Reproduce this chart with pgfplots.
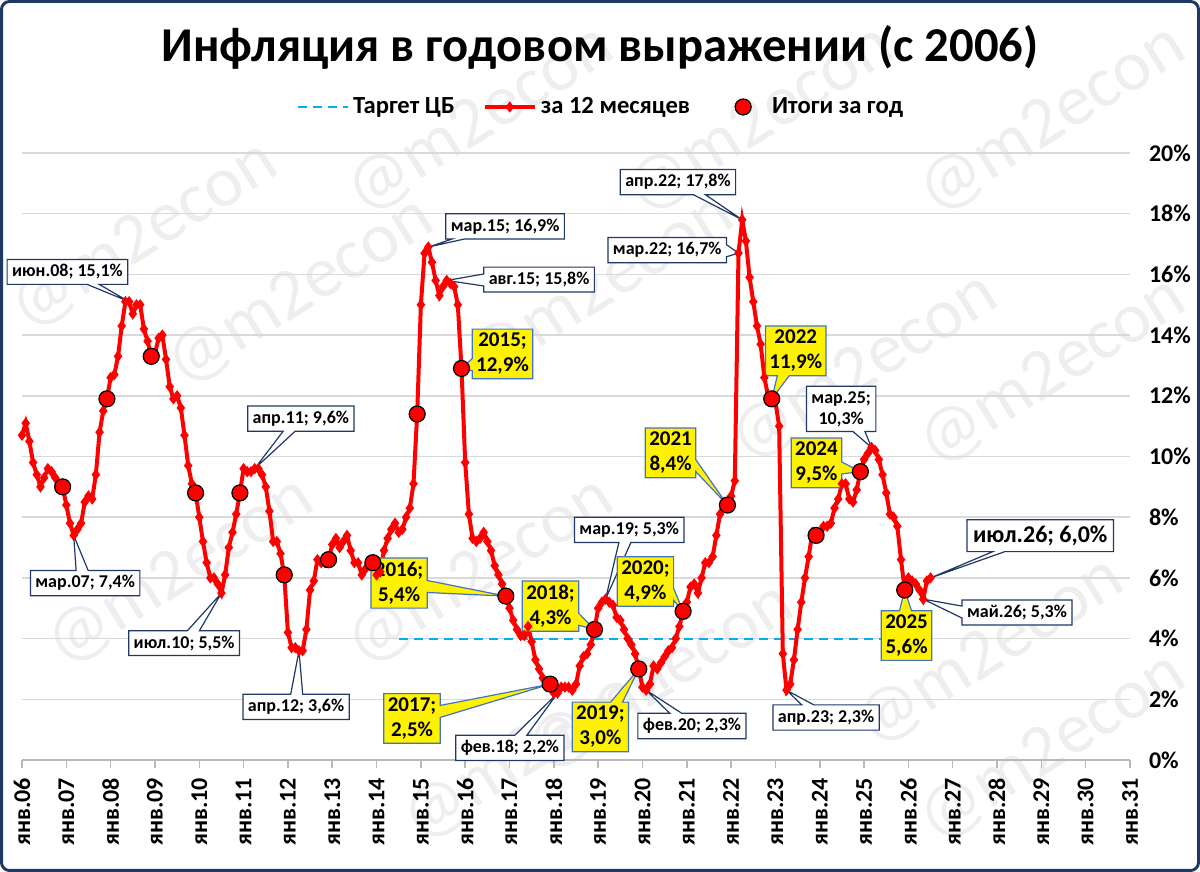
\documentclass[border=0pt]{standalone}
\usepackage{fontspec}
\setmainfont{Carlito}
\usepackage{pgfplots}
\usepackage{pgfplotstable}
\pgfplotsset{compat=1.18}
\usetikzlibrary{shapes.callouts}
\definecolor{navy}{HTML}{1F3864}
\definecolor{tgt}{HTML}{00B0F0}
\definecolor{ylwb}{HTML}{4472C4}
\definecolor{gridc}{HTML}{D9D9D9}
\definecolor{wm}{HTML}{EEEEEE}
\definecolor{redl}{HTML}{FF0000}
\tikzset{
  wc/.style={rectangle callout, draw=navy, fill=white, line width=0.6pt,
    font=\bfseries\fontsize{9}{10.5}\selectfont, inner xsep=2.5pt, inner ysep=2.5pt, callout pointer width=6pt, align=center},
  yc/.style={rectangle callout, draw=ylwb, fill=yellow, line width=0.6pt,
    font=\bfseries\fontsize{10.5}{12.5}\selectfont, inner xsep=2pt, inner ysep=2pt, callout pointer width=6pt, align=center},
}
\pgfplotsset{
  myleg/.style={legend image code/.code={\draw[mark repeat=2,mark phase=2,##1] plot coordinates {(0pt,0pt) (12.5pt,0pt) (25pt,0pt)};}},
  dotleg/.style={legend image code/.code={\path[draw=none,fill=none] (0pt,-1pt) (25pt,1pt);\draw[mark repeat=2,mark phase=2,##1] plot coordinates {(0pt,0pt) (12.5pt,0pt) (25pt,0pt)};}},
}

% monthly CPI y/y, Jan 2006 ... Jul 2026 (index 0..246)
\pgfplotstableread[row sep=\\]{v\\
10.7\\11.1\\10.5\\9.8\\9.4\\9.0\\9.3\\9.6\\9.5\\9.3\\9.1\\9.0\\
8.4\\7.8\\7.4\\7.6\\7.8\\8.5\\8.7\\8.6\\9.4\\10.8\\11.5\\11.9\\
12.6\\12.7\\13.3\\14.3\\15.1\\15.1\\14.7\\15.0\\15.0\\14.2\\13.8\\13.3\\
13.4\\13.9\\14.0\\13.2\\12.3\\11.9\\12.0\\11.6\\10.7\\9.7\\9.1\\8.8\\
8.0\\7.2\\6.5\\6.0\\6.0\\5.8\\5.5\\6.1\\7.0\\7.5\\8.1\\8.8\\
9.6\\9.5\\9.5\\9.6\\9.6\\9.4\\9.0\\8.2\\7.2\\7.2\\6.8\\6.1\\
4.2\\3.7\\3.7\\3.6\\3.6\\4.3\\5.6\\5.9\\6.6\\6.5\\6.5\\6.6\\
7.1\\7.3\\7.0\\7.2\\7.4\\6.9\\6.5\\6.5\\6.1\\6.3\\6.5\\6.5\\
6.1\\6.2\\6.9\\7.3\\7.6\\7.8\\7.5\\7.6\\8.0\\8.3\\9.1\\11.4\\
15.0\\16.7\\16.9\\16.4\\15.8\\15.3\\15.6\\15.8\\15.7\\15.6\\15.0\\12.9\\
9.8\\8.1\\7.3\\7.2\\7.3\\7.5\\7.2\\6.9\\6.4\\6.1\\5.8\\5.4\\
5.0\\4.6\\4.3\\4.1\\4.1\\4.4\\3.9\\3.3\\3.0\\2.7\\2.5\\2.5\\
2.2\\2.2\\2.4\\2.4\\2.4\\2.3\\2.5\\3.1\\3.4\\3.5\\3.8\\4.3\\
5.0\\5.2\\5.3\\5.2\\5.1\\4.7\\4.6\\4.3\\4.0\\3.8\\3.5\\3.0\\
2.4\\2.3\\2.5\\3.1\\3.0\\3.2\\3.4\\3.6\\3.7\\4.0\\4.4\\4.9\\
5.2\\5.7\\5.8\\5.5\\6.0\\6.5\\6.5\\6.7\\7.4\\8.1\\8.4\\8.4\\
8.7\\9.2\\16.7\\17.8\\17.1\\15.9\\15.1\\14.3\\13.7\\12.6\\12.0\\11.9\\
11.8\\11.0\\3.5\\2.3\\2.5\\3.3\\4.3\\5.2\\6.0\\6.7\\7.5\\7.4\\
7.4\\7.7\\7.7\\7.8\\8.3\\8.6\\9.1\\9.1\\8.6\\8.5\\8.9\\9.5\\
9.9\\10.1\\10.3\\10.2\\9.9\\9.4\\8.8\\8.1\\8.0\\7.7\\6.6\\5.6\\
6.0\\5.9\\5.8\\5.6\\5.3\\5.9\\6.0\\
}\monthly

\pgfplotstableread[row sep=\\]{m v\\
11 9.0\\23 11.9\\35 13.3\\47 8.8\\59 8.8\\71 6.1\\83 6.6\\95 6.5\\107 11.4\\119 12.9\\
131 5.4\\143 2.5\\155 4.3\\167 3.0\\179 4.9\\191 8.4\\203 11.9\\215 7.4\\227 9.5\\239 5.6\\
}\annual

\pgfplotstableread[row sep=\\]{m v\\
102 4\\239 4\\
}\target

\begin{document}
\begin{tikzpicture}
\useasboundingbox (0pt,0pt) rectangle (600pt,436pt);
% watermarks
\foreach \wx/\wy in {72/318, 150/290, 240/376, 300/292, 432/252, 526/376, 526/250,
  90/150, 240/150, 330/97, 495/110, 268/62, 526/62, 380/376}{
  \node[rotate=32, text=wm, font=\fontsize{36}{36}\selectfont] at (\wx pt,\wy pt) {@m2econ};
}
\node[font=\bfseries\fontsize{24.3}{28}\selectfont] at (300pt,412.5pt) {Инфляция в годовом выражении (с 2006)};
\begin{axis}[
  at={(11pt,56pt)}, anchor=south west, scale only axis,
  width=554pt, height=303.5pt,
  xmin=0, xmax=300, ymin=0, ymax=20,
  axis x line*=bottom, axis y line*=right,
  yticklabel pos=right,
  y axis line style={draw=none},
  x axis line style={draw=gray!55, line width=0.75pt, -},
  xtick={0,12,...,300},
  xticklabels={янв.06,янв.07,янв.08,янв.09,янв.10,янв.11,янв.12,янв.13,янв.14,янв.15,янв.16,янв.17,янв.18,янв.19,янв.20,янв.21,янв.22,янв.23,янв.24,янв.25,янв.26,янв.27,янв.28,янв.29,янв.30,янв.31},
  xticklabel style={yshift=-1.5pt, rotate=90, anchor=east, font=\bfseries\fontsize{12}{12}\selectfont},
  ytick={0,2,...,20},
  yticklabels={0\%,2\%,4\%,6\%,8\%,10\%,12\%,14\%,16\%,18\%,20\%},
  yticklabel style={font=\bfseries\fontsize{12}{12}\selectfont, anchor=west, xshift=2pt},
  ymajorgrids, grid style={gridc, line width=0.75pt},
  major tick length=4pt, tick align=outside,
  xtick style={draw=gray!55, line width=0.75pt},
  ytick style={draw=none},
  clip=false,
  legend columns=3,
  legend style={at={(0.5235,1.0758)}, anchor=center, draw=none, fill=none,
    font=\bfseries\fontsize{12.3}{14}\selectfont,
    nodes={inner xsep=2pt},
    /tikz/every even column/.append style={column sep=12pt}},
  myleg,
]
\addplot[tgt, line width=1pt, dash pattern=on 4.5pt off 3pt] table[x=m, y=v] {\target};
\addlegendentry{Таргет ЦБ}
\addplot[redl, line width=2pt, mark=diamond*, mark size=1.2pt, mark options={fill=white, draw=none, solid}] table[x expr=\coordindex, y=v] {\monthly};
\addlegendentry{за 12 месяцев}
\addplot[only marks, mark=*, mark size=4pt, mark options={fill=redl, draw=black, line width=0.6pt}, dotleg] table[x=m, y=v] {\annual};
\addlegendentry{Итоги за год}

% white callouts
\node[wc, callout absolute pointer={(axis cs:29,15.1)}] at (axis cs:12.3,16.08) {июн.08; 15,1\%};
\node[wc, callout absolute pointer={(axis cs:63,9.6)}] at (axis cs:75.5,11.25) {апр.11; 9,6\%};
\node[wc, callout absolute pointer={(axis cs:14,7.4)}] at (axis cs:17.1,5.83) {мар.07; 7,4\%};
\node[wc, callout absolute pointer={(axis cs:54,5.5)}] at (axis cs:43.9,3.85) {июл.10; 5,5\%};
\node[wc, callout absolute pointer={(axis cs:75,3.6)}] at (axis cs:74.2,1.75) {апр.12; 3,6\%};
\node[wc, callout absolute pointer={(axis cs:110,16.9)}] at (axis cs:130.8,17.58) {мар.15; 16,9\%};
\node[wc, callout absolute pointer={(axis cs:115,15.8)}] at (axis cs:140,15.83) {авг.15; 15,8\%};
\node[wc, callout absolute pointer={(axis cs:194,16.7)}] at (axis cs:174.7,16.8) {мар.22; 16,7\%};
\node[wc, callout absolute pointer={(axis cs:195,17.8)}] at (axis cs:177.6,19.04) {апр.22; 17,8\%};
\node[wc, callout absolute pointer={(axis cs:158,5.3)}] at (axis cs:164.4,7.58) {мар.19; 5,3\%};
\node[wc, callout absolute pointer={(axis cs:145,2.2)}] at (axis cs:132.1,0.4) {фев.18; 2,2\%};
\node[wc, callout absolute pointer={(axis cs:169,2.3)}] at (axis cs:181.4,1.12) {фев.20; 2,3\%};
\node[wc, callout absolute pointer={(axis cs:207,2.3)}] at (axis cs:217.7,1.4) {апр.23; 2,3\%};
\node[wc, callout absolute pointer={(axis cs:230,10.3)}] at (axis cs:221.8,11.57) {мар.25;\\10,3\%};
\node[wc, callout absolute pointer={(axis cs:244,5.3)}] at (axis cs:269.4,4.86) {май.26; 5,3\%};
\node[wc, font=\bfseries\fontsize{12}{13}\selectfont, inner xsep=3pt, inner ysep=3pt, callout absolute pointer={(axis cs:246,6.0)}] at (axis cs:275.7,7.39) {июл.26; 6,0\%};

% yellow callouts
\node[yc, callout absolute pointer={(axis cs:119,12.9)}] at (axis cs:130.1,13.38) {2015;\\12,9\%};
\node[yc, callout absolute pointer={(axis cs:131,5.4)}] at (axis cs:102.1,5.83) {2016;\\5,4\%};
\node[yc, callout absolute pointer={(axis cs:143,2.5)}] at (axis cs:105.6,1.37) {2017;\\2,5\%};
\node[yc, callout absolute pointer={(axis cs:155,4.3)}] at (axis cs:143.1,5.07) {2018;\\4,3\%};
\node[yc, callout absolute pointer={(axis cs:167,3.0)}] at (axis cs:156.6,1.09) {2019;\\3,0\%};
\node[yc, callout absolute pointer={(axis cs:179,4.9)}] at (axis cs:168.8,5.88) {2020;\\4,9\%};
\node[yc, callout absolute pointer={(axis cs:191,8.4)}] at (axis cs:175.6,10.12) {2021\\8,4\%};
\node[yc, callout absolute pointer={(axis cs:203,11.9)}] at (axis cs:209.5,13.48) {2022\\11,9\%};
\node[yc, callout absolute pointer={(axis cs:227,9.5)}] at (axis cs:215.1,9.79) {2024\\9,5\%};
\node[yc, callout absolute pointer={(axis cs:239,5.6)}] at (axis cs:239.5,4.1) {2025\\5,6\%};
\end{axis}
\draw[navy, line width=1.5pt, rounded corners=4pt] (0.75pt,0.75pt) rectangle (599.25pt,435.25pt);
\end{tikzpicture}
\end{document}
